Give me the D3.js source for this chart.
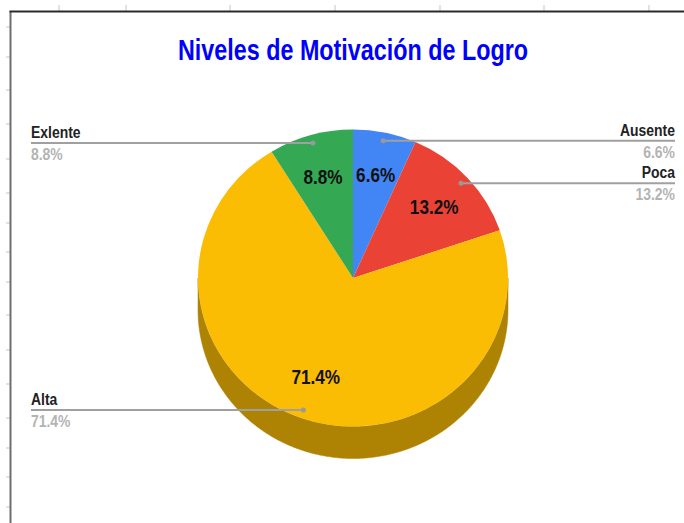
<!DOCTYPE html>
<html>
<head>
<meta charset="utf-8">
<script src="https://cdn.jsdelivr.net/npm/d3@7"></script>
<style>
  body { margin: 0; background: #fff; }
  text { font-family: "Liberation Sans", Arial, sans-serif; font-weight: bold; }
</style>
</head>
<body>
<div id="chart"></div>
<script>
// data
const categories = ["Ausente", "Poca", "Alta", "Exlente"];
const values = [6.6, 13.2, 71.4, 8.8];
const colors = ["#4285f4", "#ea4335", "#fbbc04", "#34a853"];
const title = "Niveles de Motivación de Logro";

// spreadsheet gridline ticks around the frame
const topTicks = [59, 126, 230, 335, 440, 544, 649];
const leftTicks = [27, 57, 90, 124, 159, 193, 223, 252, 282, 315, 350, 384, 418, 448, 477, 507];

let width = 684, height = 523;
let cx = 353, cy = 278, rx = 155, ry = 148.5, depth = 32;

const svg = d3.select("#chart")
  .append("svg")
  .attr("width", width)
  .attr("height", height);

// frame
svg.append("g").selectAll("line").data(topTicks).join("line")
  .attr("x1", d => d).attr("x2", d => d).attr("y1", 5).attr("y2", 11)
  .attr("stroke", "#d8d8d8").attr("stroke-width", 1.5);
svg.append("g").selectAll("line").data(leftTicks).join("line")
  .attr("x1", 6).attr("x2", 10).attr("y1", d => d).attr("y2", d => d)
  .attr("stroke", "#d8d8d8").attr("stroke-width", 1.5);
svg.append("line").attr("x1", 10.5).attr("x2", 10.5).attr("y1", 11).attr("y2", height)
  .attr("stroke", "#6e6e6e").attr("stroke-width", 2);
svg.append("line").attr("x1", 9.5).attr("x2", width).attr("y1", 11.5).attr("y2", 11.5)
  .attr("stroke", "#2a2a2a").attr("stroke-width", 2);

// text helper: the picture is squeezed horizontally
function addText(g, x, y, str, size, sx, anchor, fill) {
  return g.append("text")
    .attr("transform", `translate(${x},${y}) scale(${sx},1)`)
    .attr("text-anchor", anchor)
    .attr("font-size", size)
    .attr("fill", fill)
    .text(str);
}

addText(svg, cx, 60, title, 29, 0.805, "middle", "#0000ff");

const arcs = d3.pie().sort(null).value(d => d)(values);

// point on the top ellipse, angle measured clockwise from 12 o'clock
const pt = (a, f, dy = 0) => [cx + rx * f * Math.sin(a), cy - ry * f * Math.cos(a) + dy];

// front side (visible between 90 and 270 degrees)
const sideG = svg.append("g");
arcs.forEach((a, i) => {
  let a0 = Math.max(a.startAngle, Math.PI / 2), a1 = Math.min(a.endAngle, 3 * Math.PI / 2);
  if (a1 <= a0) return;
  let steps = d3.range(a0, a1, 0.01).concat([a1]);
  let top = steps.map(t => pt(t, 1));
  let bot = steps.slice().reverse().map(t => pt(t, 1, depth));
  sideG.append("path")
    .attr("d", d3.line()(top.concat(bot)) + "Z")
    .attr("fill", d3.rgb(colors[i]).darker(1.03))
    .attr("stroke", d3.rgb(colors[i]).darker(1.03))
    .attr("stroke-width", 0.5);
});

// top surface
const arc = d3.arc().innerRadius(0).outerRadius(rx);
svg.append("g")
  .attr("transform", `translate(${cx},${cy}) scale(1,${ry / rx})`)
  .selectAll("path")
  .data(arcs)
  .join("path")
  .attr("d", arc)
  .attr("fill", (d, i) => colors[i]);

// percentage labels inside slices
const labelG = svg.append("g");
arcs.forEach((a, i) => {
  let m = (a.startAngle + a.endAngle) / 2;
  let [x, y] = pt(m, 0.71);
  addText(labelG, x, y + 7, values[i].toFixed(1) + "%", 19.5, 0.88, "middle", "#111");
});

// leader lines and side labels
const leaderG = svg.append("g");
arcs.forEach((a, i) => {
  let m = (a.startAngle + a.endAngle) / 2;
  let [x, y] = pt(m, 0.945);
  let right = m < Math.PI;
  let lx = right ? 675 : 31;
  leaderG.append("line")
    .attr("x1", x).attr("x2", lx).attr("y1", y).attr("y2", y)
    .attr("stroke", "#a0a0a0").attr("stroke-width", 2);
  leaderG.append("circle")
    .attr("cx", x).attr("cy", y).attr("r", 2.5)
    .attr("fill", "#999");
  let anchor = right ? "end" : "start";
  addText(leaderG, lx, y - 5, categories[i], 17, 0.82, anchor, "#222");
  addText(leaderG, lx, y + 17, values[i].toFixed(1) + "%", 17, 0.82, anchor, "#b3b3b3");
});
</script>
</body>
</html>
